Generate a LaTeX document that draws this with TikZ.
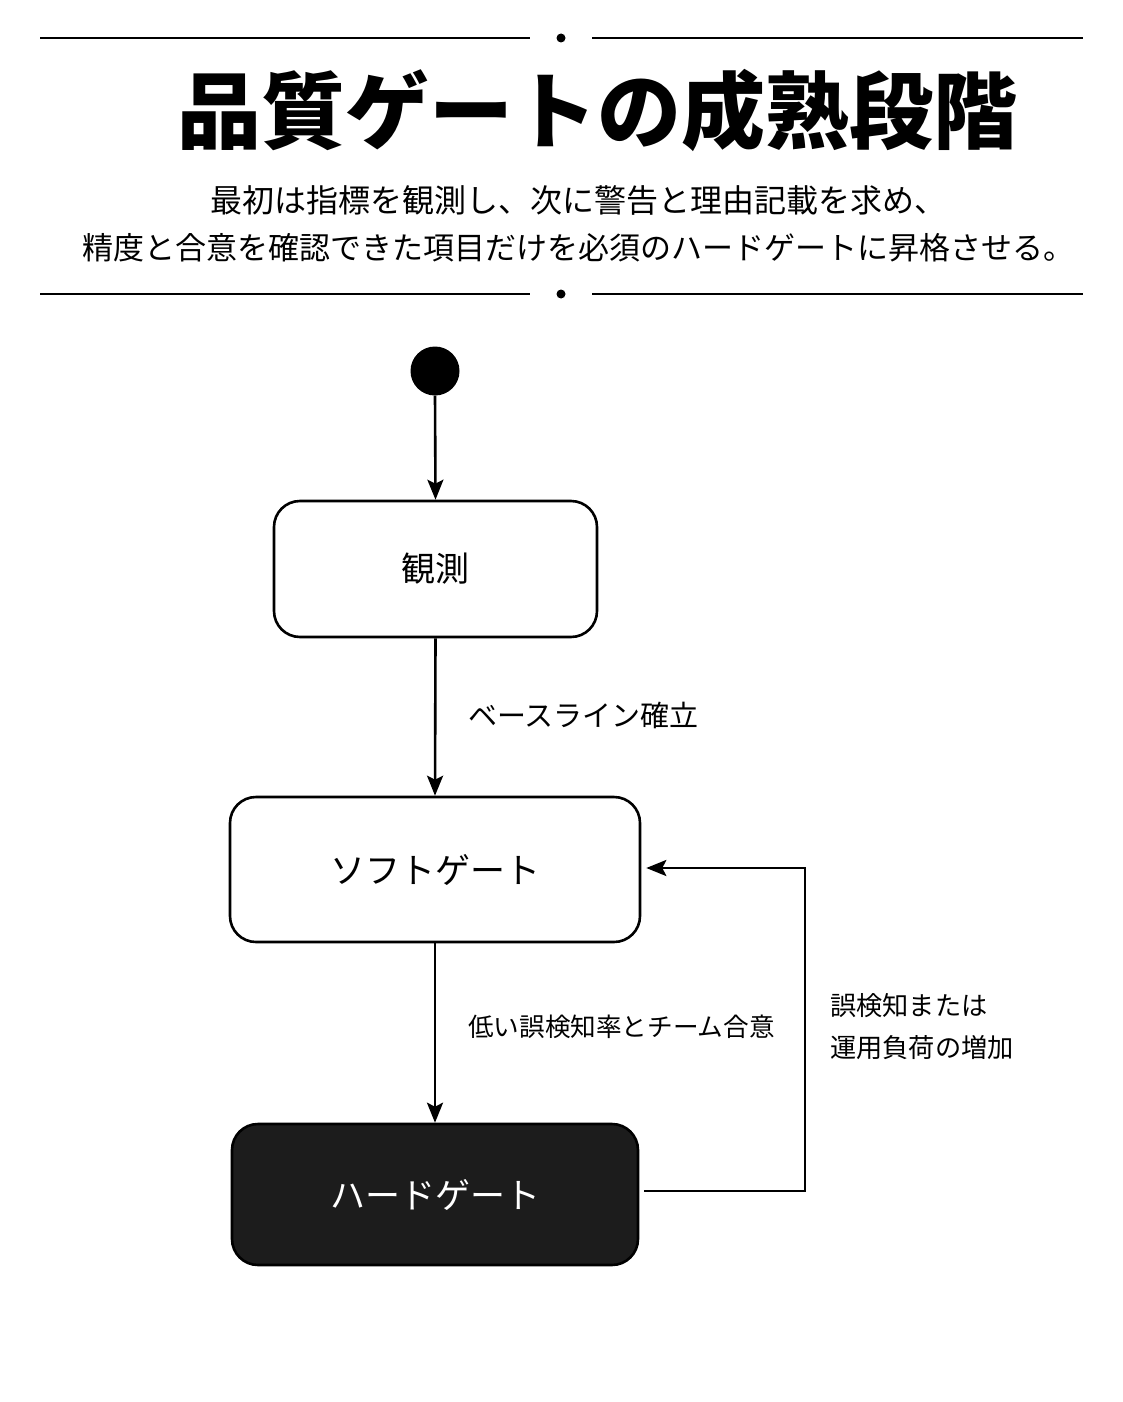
\documentclass[tikz,border=0pt]{standalone}
\usepackage{fontspec}
\setmainfont{Noto Sans CJK JP}
\newfontfamily\cjk{Noto Sans CJK JP}
\usetikzlibrary{arrows.meta}
\definecolor{hardfill}{HTML}{1C1C1C}
\tikzset{
  statebox/.style={draw=black, line width=2.6pt, rounded corners=26pt, fill=white},
  flow/.style={draw=black, line width=2.6pt, -{Stealth[length=20pt,width=16pt,inset=4pt]}},
  rule/.style={draw=black, line width=1.8pt},
  lbl/.style={anchor=west, inner sep=0pt, font=\cjk\fontsize{26}{32}\selectfont}
}
\begin{document}
\begin{tikzpicture}[x=1pt,y=-1pt]
\useasboundingbox (0,0) rectangle (1122,1402);
\fill[white] (0,0) rectangle (1122,1402);
% decorative rules
\coordinate (r1a) at (40,38); \coordinate (r1b) at (530,38);
\coordinate (r1c) at (592,38); \coordinate (r1d) at (1083,38);
\draw[rule] (r1a) -- (r1b); \draw[rule] (r1c) -- (r1d);
\fill (561,38) circle (4.5);
\coordinate (r2a) at (40,294); \coordinate (r2b) at (530,294);
\coordinate (r2c) at (592,294); \coordinate (r2d) at (1083,294);
\draw[rule] (r2a) -- (r2b); \draw[rule] (r2c) -- (r2d);
\fill (561,294) circle (4.5);
% title
\node[inner sep=0pt, font=\cjk\bfseries\fontsize{84}{90}\selectfont] (title) at (597,110) {品質ゲートの成熟段階};
\node[inner sep=0pt, font=\cjk\fontsize{32}{36}\selectfont] (sub1) at (578,200) {最初は指標を観測し、次に警告と理由記載を求め、};
\node[inner sep=0pt, font=\cjk\fontsize{31}{36}\selectfont] (sub2) at (578,248) {精度と合意を確認できた項目だけを必須のハードゲートに昇格させる。};
% diagram
\node[circle, fill=black, minimum size=49pt, inner sep=0pt] (init) at (435,371) {};
\node[statebox, minimum width=323pt, minimum height=136pt, font=\cjk\fontsize{34}{40}\selectfont] (obs) at (435.5,569) {観測};
\node[statebox, minimum width=410pt, minimum height=145pt, font=\cjk\fontsize{35}{40}\selectfont] (soft) at (435,869.5) {ソフトゲート};
\node[statebox, fill=hardfill, text=white, minimum width=406pt, minimum height=141pt, font=\cjk\fontsize{35}{40}\selectfont] (hard) at (435,1194.5) {ハードゲート};
\draw[flow] (init.south) -- (obs.north);
\draw[flow] (obs.south) -- (soft.north);
\draw[flow] (soft.south) -- (hard.north);
\coordinate (fb1) at (805,1191);
\coordinate (fb2) at (805,868);
\draw[flow] ([xshift=5pt]hard.east |- fb1) -- (fb1) -- (fb2) -- ([xshift=5pt]soft.east |- fb2);
% labels
\node[lbl, font=\cjk\fontsize{29}{32}\selectfont] (l1) at (468,715) {ベースライン確立};
\node[lbl, font=\cjk\fontsize{25.6}{32}\selectfont] (l2) at (468,1027) {低い誤検知率とチーム合意};
\node[lbl, font=\cjk\fontsize{26.2}{32}\selectfont] (l3) at (830,1006) {誤検知または};
\node[lbl, font=\cjk\fontsize{26.2}{32}\selectfont] (l4) at (830,1048) {運用負荷の増加};
\end{tikzpicture}
\end{document}
